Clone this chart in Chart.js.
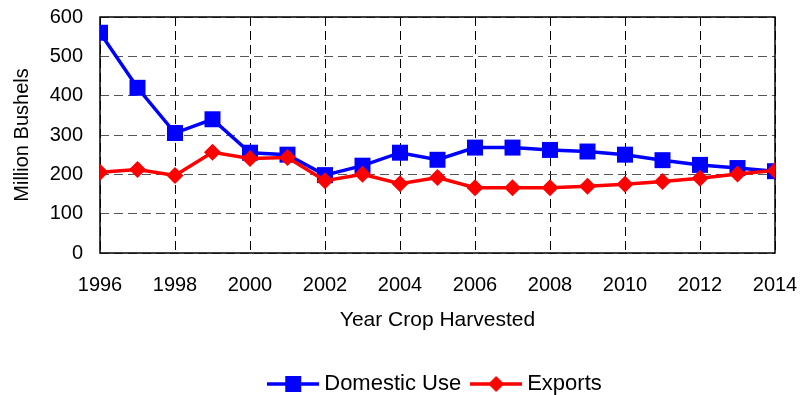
<!DOCTYPE html>
<html>
<head>
<meta charset="utf-8">
<script src="https://cdn.jsdelivr.net/npm/chart.js@4.4.1/dist/chart.umd.min.js"></script>
<style>
  html, body { margin: 0; padding: 0; background: #fff; }
  #wrap { width: 809px; height: 395px; }
</style>
</head>
<body>
<div id="wrap"><canvas id="c" width="809" height="395"></canvas></div>
<script>
// Harvest years and use of the crop, million bushels
const years = [1996, 1997, 1998, 1999, 2000, 2001, 2002, 2003, 2004, 2005,
               2006, 2007, 2008, 2009, 2010, 2011, 2012, 2013, 2014];
const domesticUse = [560, 420, 305, 340, 255, 250, 198, 222, 255, 237,
                     268, 268, 262, 258, 250, 236, 224, 216, 208];
const exportsData = [205, 212, 197, 256, 240, 243, 184, 200, 176, 192,
                     166, 166, 166, 170, 175, 182, 190, 201, 210];
const seriesNames = ['Domestic Use', 'Exports'];
const yTicks = [0, 100, 200, 300, 400, 500, 600];

const FONT = 'Liberation Sans, Arial, Helvetica, sans-serif';
const BLUE = '#0000FF';
const RED = '#FF0000';

// Legend swatch: a short line with the series marker in the middle
function legendSwatch(color, shape) {
  const cv = document.createElement('canvas');
  cv.width = 52; cv.height = 20;
  const g = cv.getContext('2d');
  g.strokeStyle = color; g.lineWidth = 3.5;
  g.beginPath(); g.moveTo(0, 10); g.lineTo(52, 10); g.stroke();
  g.fillStyle = color;
  if (shape === 'rect') {
    g.fillRect(18, 2, 16, 16);
  } else {
    g.beginPath();
    g.moveTo(26, 2); g.lineTo(34, 10); g.lineTo(26, 18); g.lineTo(18, 10);
    g.closePath(); g.fill();
  }
  return cv;
}
const swatches = [legendSwatch(BLUE, 'rect'), legendSwatch(RED, 'diamond')];

// Solid frame around the plot area
const frame = {
  id: 'frame',
  beforeDatasetsDraw(chart) {
    const { ctx, chartArea: a } = chart;
    ctx.save();
    ctx.strokeStyle = '#000';
    ctx.lineWidth = 1.5;
    ctx.strokeRect(a.left, a.top, a.right - a.left, a.bottom - a.top);
    ctx.restore();
  }
};

// Centre the legend row under the plot area and lower it a little
const legendShift = {
  id: 'legendShift',
  afterLayout(chart) {
    const lg = chart.legend;
    if (!lg) return;
    const a = chart.chartArea;
    const dx = (a.left + a.right) / 2 - (lg.left + lg.right) / 2;
    lg.left += dx;
    lg.right += dx;
    lg.top += 10;
    lg.bottom += 10;
  }
};

const toPoints = arr => arr.map((v, i) => ({ x: years[i], y: v }));

new Chart(document.getElementById('c'), {
  type: 'line',
  data: {
    datasets: [
      {
        label: seriesNames[0],
        data: toPoints(domesticUse),
        borderColor: BLUE,
        backgroundColor: BLUE,
        borderWidth: 3.5,
        pointStyle: 'rect',
        pointRadius: 11.3,
        pointHoverRadius: 11.3,
        pointBorderWidth: 0,
        tension: 0,
        order: 1
      },
      {
        label: seriesNames[1],
        data: toPoints(exportsData),
        borderColor: RED,
        backgroundColor: RED,
        borderWidth: 3.5,
        pointStyle: 'rectRot',
        pointRadius: 8.5,
        pointHoverRadius: 8.5,
        pointBorderWidth: 0,
        tension: 0,
        order: 0
      }
    ]
  },
  options: {
    responsive: false,
    animation: false,
    events: [],
    layout: { padding: { top: 17, right: 34, left: 0, bottom: 0 } },
    plugins: {
      tooltip: { enabled: false },
      legend: {
        position: 'bottom',
        labels: {
          color: '#000',
          font: { family: FONT, size: 22 },
          usePointStyle: true,
          pointStyleWidth: 40,
          padding: 15,
          generateLabels(chart) {
            const items = Chart.defaults.plugins.legend.labels.generateLabels(chart);
            items.sort((a, b) => a.datasetIndex - b.datasetIndex);
            items.forEach(it => { it.pointStyle = swatches[it.datasetIndex]; });
            return items;
          }
        }
      }
    },
    scales: {
      x: {
        type: 'linear',
        min: years[0],
        max: years[years.length - 1],
        afterBuildTicks(scale) {
          scale.ticks = years.filter(y => (y - years[0]) % 2 === 0).map(v => ({ value: v }));
        },
        afterFit(scale) {
          scale.height = 95;
          scale.paddingLeft = 0;
          scale.paddingRight = 0;
        },
        ticks: {
          color: '#000',
          font: { family: FONT, size: 20 },
          padding: 20,
          maxRotation: 0,
          autoSkip: false,
          callback: v => String(v)
        },
        grid: {
          color: '#000',
          lineWidth: 1,
          drawTicks: false
        },
        border: { display: false, dash: [9, 5] },
        title: {
          display: true,
          text: 'Year Crop Harvested',
          color: '#000',
          font: { family: FONT, size: 21 },
          padding: { top: 0, bottom: 15 }
        }
      },
      y: {
        min: yTicks[0],
        max: yTicks[yTicks.length - 1],
        afterBuildTicks(scale) {
          scale.ticks = yTicks.map(v => ({ value: v }));
        },
        afterFit(scale) {
          scale.width = 100;
          scale.paddingTop = 0;
          scale.paddingBottom = 0;
        },
        ticks: {
          color: '#000',
          font: { family: FONT, size: 20 },
          padding: 17
        },
        grid: {
          color: '#555',
          lineWidth: 1,
          drawTicks: false
        },
        border: { display: false, dash: [9, 5] },
        title: {
          display: true,
          text: 'Million Bushels',
          color: '#000',
          font: { family: FONT, size: 20 },
          padding: { top: 10, bottom: 0 }
        }
      }
    }
  },
  plugins: [frame, legendShift]
});
</script>
</body>
</html>
